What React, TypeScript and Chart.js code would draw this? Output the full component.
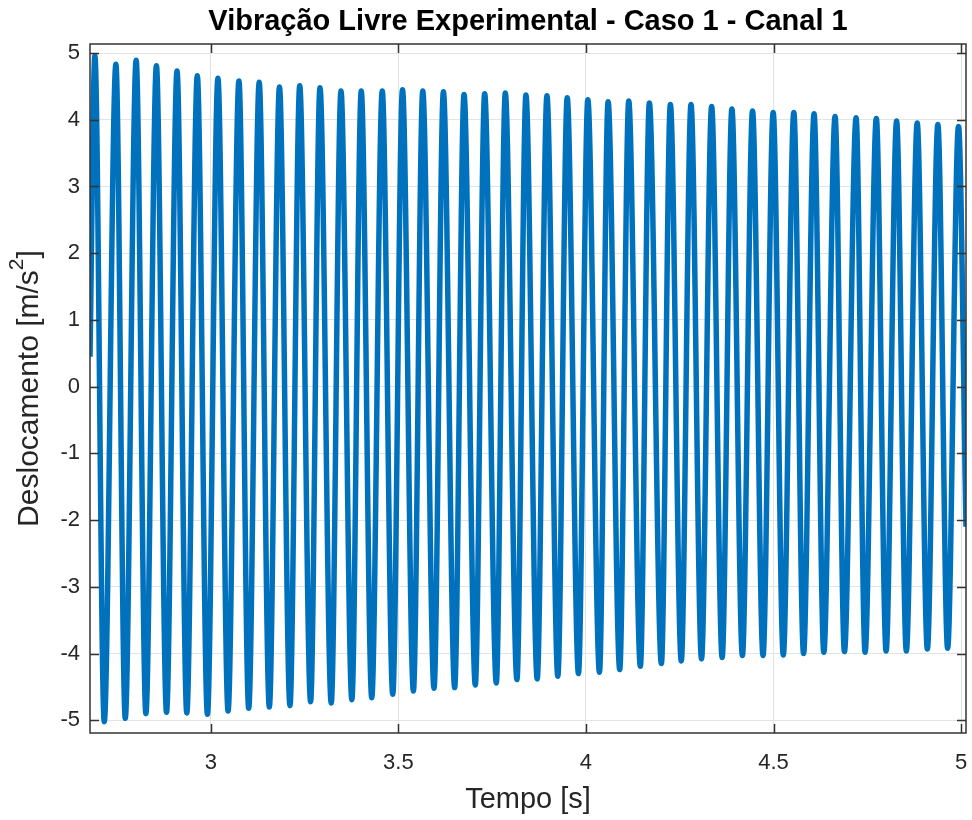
import React, { useEffect, useRef } from "react";
import { Chart, registerables } from "chart.js";

Chart.register(...registerables);

const TITLE = "Vibração Livre Experimental - Caso 1 - Canal 1";
const X_LABEL = "Tempo [s]";
const Y_LABEL_MAIN = "Deslocamento [m/s";
const Y_LABEL_SUP = "2";
const Y_LABEL_END = "]";

const X_MIN = 2.678;
const X_MAX = 5.013;
const Y_MIN = -5.19;
const Y_MAX = 5.135;
const X_TICKS = [3, 3.5, 4, 4.5, 5];
const Y_TICKS = [-5, -4, -3, -2, -1, 0, 1, 2, 3, 4, 5];

const START_POINT = { t: 2.678, v: 0.45 };
const END_POINT = { t: 5.013, v: -2.1 };

const peakTimes = [
  2.691, 2.747, 2.801, 2.855, 2.91, 2.964, 3.019, 3.075, 3.129, 3.183, 3.237, 3.291, 3.347, 3.401,
  3.457, 3.511, 3.565, 3.62, 3.675, 3.73, 3.785, 3.84, 3.896, 3.95, 4.005, 4.059, 4.114, 4.169,
  4.225, 4.28, 4.335, 4.389, 4.444, 4.499, 4.554, 4.608, 4.664, 4.72, 4.774, 4.828, 4.883, 4.938, 4.993,
];
const peakValues = [
  4.96, 4.83, 4.89, 4.81, 4.73, 4.66, 4.62, 4.58, 4.56, 4.49, 4.51, 4.48, 4.43, 4.43,
  4.43, 4.45, 4.43, 4.42, 4.38, 4.39, 4.4, 4.37, 4.36, 4.33, 4.3, 4.27, 4.28, 4.25,
  4.23, 4.23, 4.2, 4.16, 4.13, 4.11, 4.11, 4.09, 4.05, 4.03, 4.02, 3.98, 3.95, 3.93, 3.9,
];
const troughTimes = [
  2.716, 2.772, 2.827, 2.882, 2.936, 2.991, 3.046, 3.101, 3.156, 3.211, 3.266, 3.321, 3.376,
  3.429, 3.485, 3.54, 3.595, 3.65, 3.705, 3.761, 3.816, 3.87, 3.925, 3.98, 4.036, 4.09, 4.145, 4.201,
  4.254, 4.308, 4.363, 4.417, 4.472, 4.526, 4.58, 4.634, 4.689, 4.744, 4.8, 4.854, 4.91, 4.964,
];
const troughValues = [
  -5.02, -4.97, -4.9, -4.88, -4.89, -4.91, -4.86, -4.82, -4.8, -4.78, -4.72, -4.74, -4.69,
  -4.66, -4.61, -4.56, -4.52, -4.51, -4.47, -4.44, -4.39, -4.38, -4.34, -4.3, -4.28, -4.24, -4.19, -4.15,
  -4.11, -4.08, -4.06, -4.03, -4.03, -4.02, -4.0, -3.98, -3.97, -3.98, -3.96, -3.96, -3.93, -3.92,
];

const FONT = "'Liberation Sans', Arial, Helvetica, sans-serif";
const TEXT_COLOR = "#262626";
const LINE_COLOR = "#0072BD";

function buildPoints() {
  const pts: { x: number; y: number }[] = [{ x: START_POINT.t, y: START_POINT.v }];
  peakTimes.forEach((t, i) => pts.push({ x: t, y: peakValues[i] }));
  troughTimes.forEach((t, i) => pts.push({ x: t, y: troughValues[i] }));
  pts.push({ x: END_POINT.t, y: END_POINT.v });
  pts.sort((a, b) => a.x - b.x);
  return pts;
}

const framePlugin = {
  id: "matlabFrame",
  afterDatasetsDraw(chart: any) {
    const { ctx, chartArea, scales } = chart;
    const { left, right, top, bottom } = chartArea;
    const tickLen = 9;
    ctx.save();
    ctx.strokeStyle = "#333333";
    ctx.lineWidth = 1.5;
    ctx.beginPath();
    X_TICKS.forEach((v) => {
      const px = Math.round(scales.x.getPixelForValue(v)) + 0.5;
      ctx.moveTo(px, bottom);
      ctx.lineTo(px, bottom - tickLen);
      ctx.moveTo(px, top);
      ctx.lineTo(px, top + tickLen);
    });
    Y_TICKS.forEach((v) => {
      const py = Math.round(scales.y.getPixelForValue(v)) + 0.5;
      ctx.moveTo(left, py);
      ctx.lineTo(left + tickLen, py);
      ctx.moveTo(right, py);
      ctx.lineTo(right - tickLen, py);
    });
    ctx.stroke();
    ctx.strokeRect(left, top, right - left, bottom - top);
    ctx.restore();
  },
  afterDraw(chart: any) {
    const { ctx, chartArea } = chart;
    const cx = (chartArea.left + chartArea.right) / 2;
    const cy = (chartArea.top + chartArea.bottom) / 2;
    ctx.save();
    ctx.fillStyle = "#000000";
    ctx.textAlign = "center";
    ctx.textBaseline = "middle";
    ctx.font = `bold 29px ${FONT}`;
    ctx.fillText(TITLE, cx, 22);

    ctx.fillStyle = TEXT_COLOR;
    ctx.font = `29px ${FONT}`;
    ctx.fillText(X_LABEL, cx, 800);

    // y label with superscript
    const mainFont = `30px ${FONT}`;
    const supFont = `21px ${FONT}`;
    ctx.font = mainFont;
    const w1 = ctx.measureText(Y_LABEL_MAIN).width;
    const w3 = ctx.measureText(Y_LABEL_END).width;
    ctx.font = supFont;
    const w2 = ctx.measureText(Y_LABEL_SUP).width;
    const total = w1 + w2 + w3;
    ctx.translate(30, cy);
    ctx.rotate(-Math.PI / 2);
    ctx.textAlign = "left";
    ctx.textBaseline = "middle";
    let x0 = -total / 2;
    ctx.font = mainFont;
    ctx.fillText(Y_LABEL_MAIN, x0, 0);
    x0 += w1;
    ctx.font = supFont;
    ctx.fillText(Y_LABEL_SUP, x0, -13);
    x0 += w2;
    ctx.font = mainFont;
    ctx.fillText(Y_LABEL_END, x0, 0);
    ctx.restore();
  },
};

export default function App() {
  const canvasRef = useRef<HTMLCanvasElement | null>(null);

  useEffect(() => {
    if (!canvasRef.current) return;
    const chart = new Chart(canvasRef.current, {
      type: "line",
      data: {
        datasets: [
          {
            data: buildPoints(),
            borderColor: LINE_COLOR,
            borderWidth: 5.5,
            pointRadius: 0,
            cubicInterpolationMode: "monotone",
            fill: false,
          },
        ],
      },
      options: {
        responsive: false,
        animation: false,
        events: [],
        layout: { padding: { top: 44, right: 6, left: 0, bottom: 0 } },
        plugins: { legend: { display: false }, title: { display: false }, tooltip: { enabled: false } },
        scales: {
          x: {
            type: "linear",
            min: X_MIN,
            max: X_MAX,
            afterBuildTicks: (scale: any) => {
              scale.ticks = X_TICKS.map((v) => ({ value: v }));
            },
            afterFit: (scale: any) => {
              scale.height = 87;
              scale.paddingLeft = 0;
              scale.paddingRight = 0;
            },
            grid: { color: "#e3e3e3", lineWidth: 1, drawTicks: false },
            border: { display: false },
            ticks: {
              padding: 17,
              color: TEXT_COLOR,
              font: { family: FONT, size: 22 },
              maxRotation: 0,
              callback: (v: any) => String(v),
            },
          },
          y: {
            type: "linear",
            min: Y_MIN,
            max: Y_MAX,
            afterBuildTicks: (scale: any) => {
              scale.ticks = Y_TICKS.map((v) => ({ value: v }));
            },
            afterFit: (scale: any) => {
              scale.width = 90;
              scale.paddingTop = 0;
              scale.paddingBottom = 0;
            },
            grid: { color: "#e3e3e3", lineWidth: 1, drawTicks: false },
            border: { display: false },
            ticks: {
              padding: 10,
              color: TEXT_COLOR,
              font: { family: FONT, size: 22 },
              callback: (v: any) => String(v),
            },
          },
        },
      },
      plugins: [framePlugin],
    });
    return () => chart.destroy();
  }, []);

  return (
    <div style={{ position: "absolute", left: 0, top: 0, width: 972, height: 820, background: "#fff" }}>
      <canvas ref={canvasRef} width={972} height={820} style={{ display: "block" }} />
    </div>
  );
}
